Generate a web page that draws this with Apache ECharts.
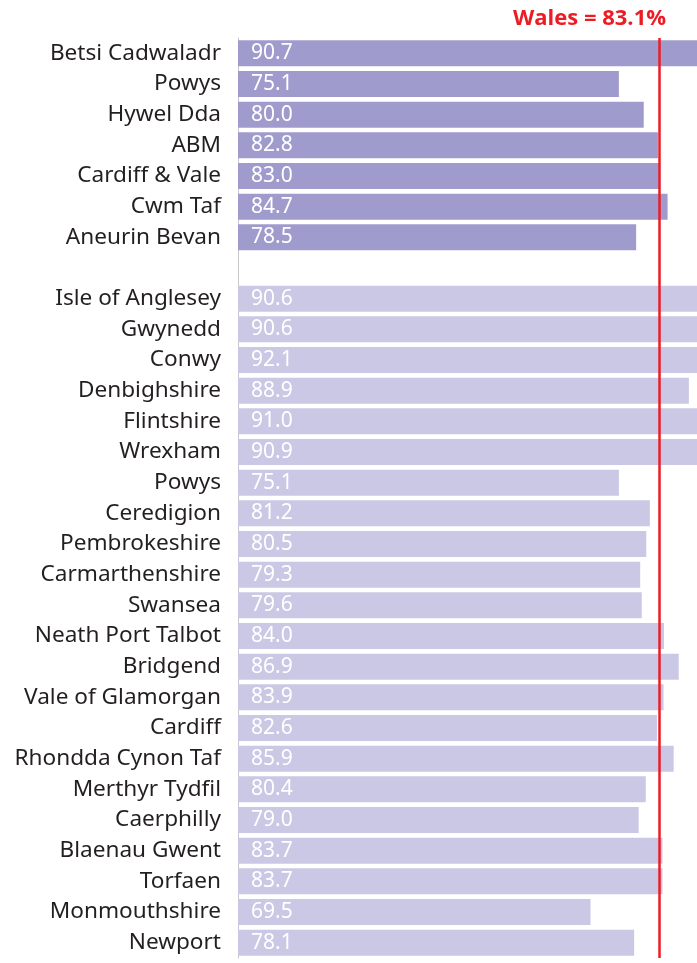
<!DOCTYPE html>
<html>
<head>
<meta charset="utf-8">
<script src="https://cdn.jsdelivr.net/npm/echarts@6/dist/echarts.min.js"></script>
<style>
  html, body { margin: 0; padding: 0; background: #fff; }
  #chart { width: 697px; height: 963px; }
</style>
</head>
<body>
<div id="chart"></div>
<script>
// health boards (top block)
const boardNames = ['Betsi Cadwaladr', 'Powys', 'Hywel Dda', 'ABM', 'Cardiff & Vale', 'Cwm Taf', 'Aneurin Bevan']
const boardValues = [90.7, 75.1, 80.0, 82.8, 83.0, 84.7, 78.5]

// local authorities (bottom block)
const laNames = ['Isle of Anglesey', 'Gwynedd', 'Conwy', 'Denbighshire', 'Flintshire', 'Wrexham', 'Powys',
  'Ceredigion', 'Pembrokeshire', 'Carmarthenshire', 'Swansea', 'Neath Port Talbot', 'Bridgend',
  'Vale of Glamorgan', 'Cardiff', 'Rhondda Cynon Taf', 'Merthyr Tydfil', 'Caerphilly',
  'Blaenau Gwent', 'Torfaen', 'Monmouthshire', 'Newport']
const laValues = [90.6, 90.6, 92.1, 88.9, 91.0, 90.9, 75.1, 81.2, 80.5, 79.3, 79.6, 84.0, 86.9,
  83.9, 82.6, 85.9, 80.4, 79.0, 83.7, 83.7, 69.5, 78.1]

const walesValue = 83.1

const boardColor = '#9f9ccd'
const laColor = '#cbc8e5'

// one blank row separates the two blocks
const categories = [...boardNames, '', ...laNames]
const barData = [
  ...boardValues.map(v => ({ value: v, itemStyle: { color: boardColor } })),
  { value: null },
  ...laValues.map(v => ({ value: v, itemStyle: { color: laColor } }))
]

const chart = echarts.init(document.getElementById('chart'))
chart.setOption({
  animation: false,
  title: {
    text: 'Wales = ' + walesValue.toFixed(1) + '%',
    left: 508,
    top: 3,
    textStyle: {
      color: '#ed1c24',
      fontSize: 22,
      fontWeight: 'bold',
      fontFamily: 'Open Sans'
    }
  },
  grid: {
    left: 238,
    right: 0,
    top: 38,
    bottom: 5
  },
  xAxis: {
    type: 'value',
    min: 0,
    max: 90.5,
    show: false
  },
  yAxis: {
    type: 'category',
    data: categories,
    inverse: true,
    axisTick: { show: false },
    axisLine: {
      lineStyle: { color: '#c8c8c8', width: 1 }
    },
    axisLabel: {
      margin: 17,
      color: '#231f20',
      fontSize: 22.6,
      fontFamily: 'Noto Sans'
    }
  },
  series: [{
    type: 'bar',
    data: barData,
    barCategoryGap: '15%',
    clip: true,
    label: {
      show: true,
      position: 'insideLeft',
      distance: 13,
      color: '#fff',
      fontSize: 21,
      fontFamily: 'Noto Sans',
      formatter: p => p.value == null ? '' : Number(p.value).toFixed(1)
    },
    markLine: {
      symbol: 'none',
      silent: true,
      label: { show: false },
      lineStyle: { color: '#ed1c24', width: 2.5, type: 'solid' },
      data: [{ xAxis: walesValue }]
    }
  }]
})
</script>
</body>
</html>
